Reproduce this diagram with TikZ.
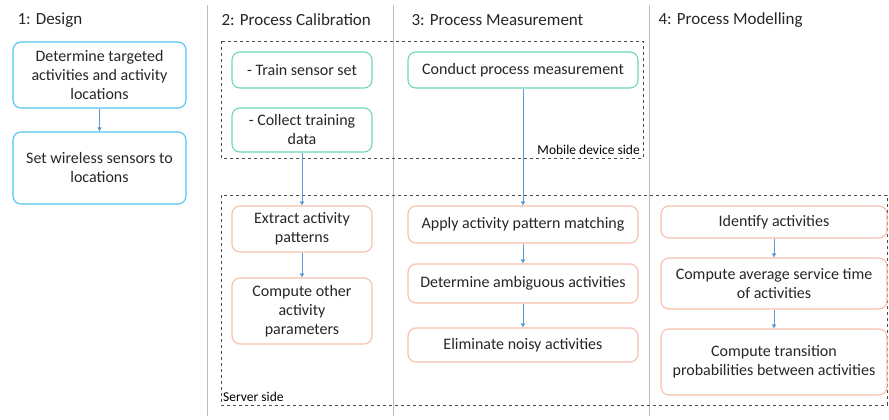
\documentclass[tikz,border=0pt]{standalone}
\usepackage{fontspec}
\setmainfont{Carlito}
\usepackage{tikz}
\usetikzlibrary{arrows.meta}
\definecolor{designblue}{RGB}{79,195,240}
\definecolor{mobilegreen}{RGB}{110,214,185}
\definecolor{serverred}{RGB}{247,190,172}
\definecolor{flowblue}{RGB}{91,155,213}
\definecolor{sepgray}{RGB}{190,190,190}
\definecolor{textgray}{RGB}{38,38,38}

\begin{document}
\begin{tikzpicture}[x=1pt,y=-1pt,
  stepbox/.style={draw,rounded corners=8pt,line width=1.1pt,align=center,
    inner sep=2pt,font=\fontsize{16}{19}\selectfont,text=textgray},
  designbox/.style={stepbox,draw=designblue},
  mobilebox/.style={stepbox,draw=mobilegreen},
  serverbox/.style={stepbox,draw=serverred},
  phase/.style={anchor=west,font=\fontsize{17}{19}\selectfont,text=textgray},
  side/.style={font=\fontsize{13.5}{15}\selectfont,text=black},
  flow/.style={flowblue,line width=0.7pt,-{Triangle[length=4pt,width=4pt]}}]
\useasboundingbox (0,0) rectangle (889,420);
% phase separators
\draw [sepgray, line width=0.9pt] (207,5)--(207,416);
\draw [sepgray, line width=0.9pt] (393,5)--(393,416);
\draw [sepgray, line width=0.9pt] (649,5)--(649,416);
% phase titles
\node [phase] (t1) at (14,20) {1: Design};
\node [phase] (t2) at (218,20) {2: Process Calibration};
\node [phase] (t3) at (408,20) {3: Process Measurement};
\node [phase] (t4) at (655,20) {4: Process Modelling};
% device sides
\draw [dashed, black!70, line width=0.8pt] (221,41) rectangle (643,158);
\draw [dashed, black!70, line width=0.8pt] (221,195) rectangle (887,405);
\node [side, anchor=south east, inner sep=1pt] (mobile) at (641,156) {Mobile device side};
\node [side, anchor=south west, inner sep=1pt] (server) at (222,403) {Server side};
% 1: design
\node [designbox, minimum width=173pt, minimum height=66pt] (d1) at (99.5,75)
  {Determine targeted\\activities and activity\\locations};
\node [designbox, minimum width=173pt, minimum height=72pt] (d2) at (99.5,168)
  {Set wireless sensors to\\locations};
% 2: calibration
\node [mobilebox, minimum width=140pt, minimum height=36pt] (c1) at (302,70) {- Train sensor set};
\node [mobilebox, minimum width=140pt, minimum height=44pt] (c2) at (302,130) {- Collect training\\data};
\node [serverbox, minimum width=140pt, minimum height=46pt] (c3) at (302,229) {Extract activity\\patterns};
\node [serverbox, minimum width=140pt, minimum height=66pt] (c4) at (302,311) {Compute other\\activity\\parameters};
% 3: measurement
\node [mobilebox, minimum width=230pt, minimum height=36pt] (m1) at (523,70) {Conduct process measurement};
\node [serverbox, minimum width=230pt, minimum height=37pt] (m2) at (523,224.5) {Apply activity pattern matching};
\node [serverbox, minimum width=230pt, minimum height=39pt] (m3) at (523,283.5) {Determine ambiguous activities};
\node [serverbox, minimum width=230pt, minimum height=34pt] (m4) at (523,345) {Eliminate noisy activities};
% 4: modelling
\node [serverbox, minimum width=226pt, minimum height=32pt] (p1) at (774,222) {Identify activities};
\node [serverbox, minimum width=226pt, minimum height=51pt] (p2) at (774,283.5) {Compute average service time\\of activities};
\node [serverbox, minimum width=226pt, minimum height=66pt] (p3) at (774,362) {Compute transition\\probabilities between activities};
% flows
\draw [flow] (d1)--(d2);
\draw [flow] (c2)--(c3);
\draw [flow] (c3)--(c4);
\draw [flow] (m1)--(m2);
\draw [flow] (m2)--(m3);
\draw [flow] (m3)--(m4);
\draw [flow] (p1)--(p2);
\draw [flow] (p2)--(p3);
\end{tikzpicture}
\end{document}
